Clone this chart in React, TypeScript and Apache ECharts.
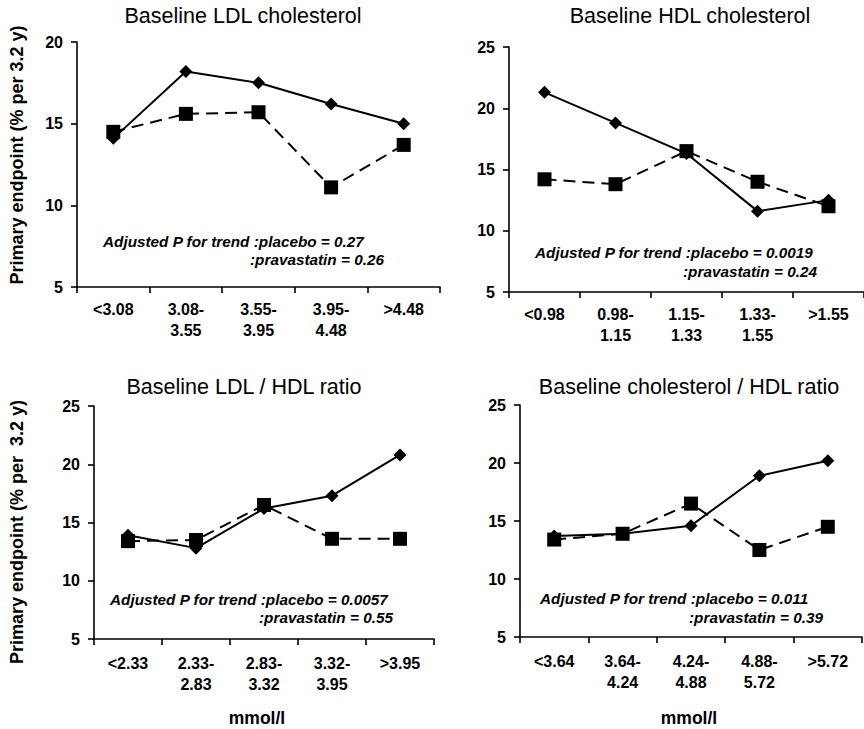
import React, { useEffect, useRef } from "react";
import * as echarts from "echarts";

const ldlCats = ["<3.08", "3.08-\n3.55", "3.55-\n3.95", "3.95-\n4.48", ">4.48"];
const ldlPlacebo = [14.1, 18.2, 17.5, 16.2, 15.0];
const ldlPrava = [14.5, 15.6, 15.7, 11.1, 13.7];

const hdlCats = ["<0.98", "0.98-\n1.15", "1.15-\n1.33", "1.33-\n1.55", ">1.55"];
const hdlPlacebo = [21.3, 18.8, 16.3, 11.6, 12.5];
const hdlPrava = [14.2, 13.8, 16.5, 14.0, 12.0];

const ratioCats = ["<2.33", "2.33-\n2.83", "2.83-\n3.32", "3.32-\n3.95", ">3.95"];
const ratioPlacebo = [13.9, 12.8, 16.2, 17.3, 20.8];
const ratioPrava = [13.4, 13.5, 16.5, 13.6, 13.6];

const cholCats = ["<3.64", "3.64-\n4.24", "4.24-\n4.88", "4.88-\n5.72", ">5.72"];
const cholPlacebo = [13.7, 13.9, 14.6, 18.9, 20.2];
const cholPrava = [13.4, 13.9, 16.5, 12.5, 14.5];

const titles = [
  "Baseline LDL cholesterol",
  "Baseline HDL cholesterol",
  "Baseline LDL / HDL ratio",
  "Baseline cholesterol / HDL ratio",
];
const pPlacebo = ["0.27", "0.0019", "0.0057", "0.011"];
const pPrava = ["0.26", "0.24", "0.55", "0.39"];
const yMax = [20, 25, 25, 25];

const FONT = "'Liberation Sans', Arial, Helvetica, sans-serif";

export default function App() {
  const ref = useRef<HTMLDivElement>(null);
  useEffect(() => {
    if (!ref.current) return;
    const chart = echarts.init(ref.current, null, { renderer: "svg" });
    const cats = [ldlCats, hdlCats, ratioCats, cholCats];
    const plac = [ldlPlacebo, hdlPlacebo, ratioPlacebo, cholPlacebo];
    const prav = [ldlPrava, hdlPrava, ratioPrava, cholPrava];
    const grids = [
      { left: 77, top: 42, width: 363, height: 245 },
      { left: 509, top: 47, width: 365, height: 245 },
      { left: 94, top: 406, width: 340, height: 233 },
      { left: 520, top: 405, width: 342, height: 232 },
    ];
    const labelMargin = [12, 12, 14, 14];
    const axisLine = { lineStyle: { color: "#000", width: 1.6 } };
    const axisTick = { show: true, length: 6, inside: false, lineStyle: { color: "#000", width: 1.6 } };
    const xAxis = grids.map((_, i) => ({
      type: "category",
      gridIndex: i,
      data: cats[i],
      boundaryGap: true,
      axisLine,
      axisTick: { ...axisTick, alignWithLabel: false, interval: 0 },
      axisLabel: {
        interval: 0,
        color: "#000",
        fontFamily: FONT,
        fontWeight: "bold",
        fontSize: 16,
        lineHeight: 21,
        margin: labelMargin[i],
      },
      splitLine: { show: false },
    }));
    const yAxis = grids.map((_, i) => ({
      type: "value",
      gridIndex: i,
      min: 5,
      max: yMax[i],
      interval: 5,
      axisLine: { show: true, ...axisLine },
      axisTick,
      axisLabel: { color: "#000", fontFamily: FONT, fontWeight: "bold", fontSize: 16, margin: 14 },
      splitLine: { show: false },
    }));
    const series: any[] = [];
    grids.forEach((_, i) => {
      series.push({
        type: "line",
        xAxisIndex: i,
        yAxisIndex: i,
        data: plac[i],
        symbol: "diamond",
        symbolSize: 13,
        itemStyle: { color: "#000" },
        lineStyle: { color: "#000", width: 2, type: "solid" },
        z: 2,
      });
      series.push({
        type: "line",
        xAxisIndex: i,
        yAxisIndex: i,
        data: prav[i],
        symbol: "rect",
        symbolSize: 14,
        itemStyle: { color: "#000" },
        lineStyle: { color: "#000", width: 2, type: [12, 7] },
        z: 3,
      });
    });
    const titlePos = [
      [243, 16],
      [690, 16],
      [244, 387],
      [689, 387],
    ];
    const annPos = [
      [103, 241, 250, 259],
      [535, 252, 683, 271],
      [110, 599, 259, 617],
      [540, 598, 689, 617],
    ];
    const graphic: any[] = [];
    titles.forEach((t, i) => {
      graphic.push({
        type: "text",
        x: titlePos[i][0],
        y: titlePos[i][1],
        style: {
          text: t,
          fill: "#000",
          font: `21.5px ${FONT}`,
          textAlign: "center",
          textVerticalAlign: "middle",
        },
      });
      graphic.push({
        type: "text",
        x: annPos[i][0],
        y: annPos[i][1],
        style: {
          text: "Adjusted P for trend :placebo = " + pPlacebo[i],
          fill: "#000",
          font: `italic bold 15.3px ${FONT}`,
          textAlign: "left",
          textVerticalAlign: "middle",
        },
      });
      graphic.push({
        type: "text",
        x: annPos[i][2],
        y: annPos[i][3],
        style: {
          text: ":pravastatin = " + pPrava[i],
          fill: "#000",
          font: `italic bold 15.3px ${FONT}`,
          textAlign: "left",
          textVerticalAlign: "middle",
        },
      });
    });
    graphic.push({
      type: "text",
      x: 17,
      y: 155,
      rotation: Math.PI / 2,
      style: {
        text: "Primary endpoint (% per 3.2 y)",
        fill: "#000",
        font: `bold 18px ${FONT}`,
        textAlign: "center",
        textVerticalAlign: "middle",
      },
    });
    graphic.push({
      type: "text",
      x: 17,
      y: 532,
      rotation: Math.PI / 2,
      style: {
        text: "Primary endpoint (% per  3.2 y)",
        fill: "#000",
        font: `bold 18px ${FONT}`,
        textAlign: "center",
        textVerticalAlign: "middle",
      },
    });
    [257, 689].forEach((x) => {
      graphic.push({
        type: "text",
        x,
        y: 718,
        style: {
          text: "mmol/l",
          fill: "#000",
          font: `bold 17.5px ${FONT}`,
          textAlign: "center",
          textVerticalAlign: "middle",
        },
      });
    });
    chart.setOption({
      animation: false,
      backgroundColor: "#fff",
      grid: grids,
      xAxis,
      yAxis,
      series,
      graphic,
    });
    return () => chart.dispose();
  }, []);
  return (
    <div
      ref={ref}
      style={{ position: "absolute", left: 0, top: 0, width: 864, height: 729 }}
    />
  );
}
